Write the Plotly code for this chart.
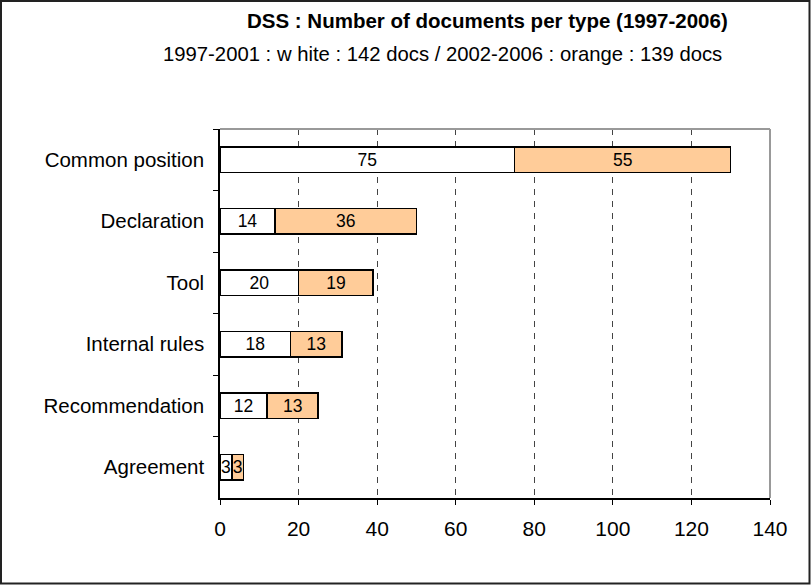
import plotly.graph_objects as go

# Document types, top to bottom
doc_types = ["Common position", "Declaration", "Tool", "Internal rules",
             "Recommendation", "Agreement"]
# Counts for the two periods
period_1997_2001 = [75, 14, 20, 18, 12, 3]
period_2002_2006 = [55, 36, 19, 13, 13, 3]

x_ticks = [0, 20, 40, 60, 80, 100, 120, 140]

title_text = "DSS : Number of documents per type (1997-2006)"
subtitle_text = "1997-2001 : w hite : 142 docs / 2002-2006 : orange : 139 docs"

W, H = 811, 585
ML, MR, MT, MB = 220, 41, 129, 87
PW, PH = W - ML - MR, H - MT - MB


def px_x(p):
    return (p - ML) / PW


def px_y(p):
    return (H - MB - p) / PH


FONT = "Liberation Sans, Arial, sans-serif"

fig = go.Figure()
for vals, color in [(period_1997_2001, "#FFFFFF"), (period_2002_2006, "#FFCC99")]:
    fig.add_trace(go.Bar(
        y=doc_types, x=vals, orientation="h",
        marker=dict(color=color, line=dict(color="#000000", width=1.5)),
        text=vals, textposition="inside", insidetextanchor="middle",
        textangle=0, constraintext="none",
        textfont=dict(family=FONT, size=17.5, color="#000000"),
        showlegend=False, hoverinfo="x+y",
    ))

fig.update_layout(
    width=W, height=H,
    margin=dict(l=ML, r=MR, t=MT, b=MB, pad=0),
    barmode="stack", bargap=0.58,
    paper_bgcolor="#FFFFFF", plot_bgcolor="#FFFFFF",
    font=dict(family=FONT, color="#000000"),
    uniformtext=dict(minsize=17.5, mode="show"),
    xaxis=dict(
        range=[0, 140], tickvals=x_ticks, ticktext=[str(v) for v in x_ticks],
        showgrid=True, gridcolor="#444444", gridwidth=1, griddash="6px,6px",
        zeroline=False, showline=True, linecolor="#000000", linewidth=1.5,
        ticks="outside", ticklen=5, tickcolor="#000000", tickwidth=1,
        tickfont=dict(family=FONT, size=21, color="#000000"),
        ticklabelstandoff=6,
    ),
    yaxis=dict(
        categoryorder="array", categoryarray=doc_types,
        range=[5.5, -0.5],
        showgrid=False, zeroline=False,
        showline=True, linecolor="#000000", linewidth=1.5,
        ticks="outside", ticklen=5, tickcolor="#000000", tickwidth=1,
        tickson="boundaries",
        tickfont=dict(family=FONT, size=20.5, color="#000000"),
        ticklabelstandoff=10,
    ),
    shapes=[
        # grey frame on the top and right of the plot area
        dict(type="line", xref="paper", yref="paper", x0=0, x1=1, y0=1, y1=1,
             line=dict(color="#999999", width=2)),
        dict(type="line", xref="paper", yref="paper", x0=1, x1=1, y0=0, y1=1,
             line=dict(color="#999999", width=2)),
        # outer chart border
        dict(type="rect", xref="paper", yref="paper",
             x0=px_x(1), x1=px_x(809.5), y0=px_y(583.5), y1=px_y(1),
             line=dict(color="#222222", width=2), fillcolor="rgba(0,0,0,0)"),
    ],
    annotations=[
        dict(text="<b>" + title_text + "</b>", xref="paper", yref="paper",
             x=px_x(487), y=px_y(21), xanchor="center", yanchor="middle",
             showarrow=False, font=dict(family=FONT, size=20.5, color="#000000")),
        dict(text=subtitle_text, xref="paper", yref="paper",
             x=px_x(442), y=px_y(54), xanchor="center", yanchor="middle",
             showarrow=False, font=dict(family=FONT, size=20.3, color="#000000")),
    ],
)

fig.write_html("out.html")
